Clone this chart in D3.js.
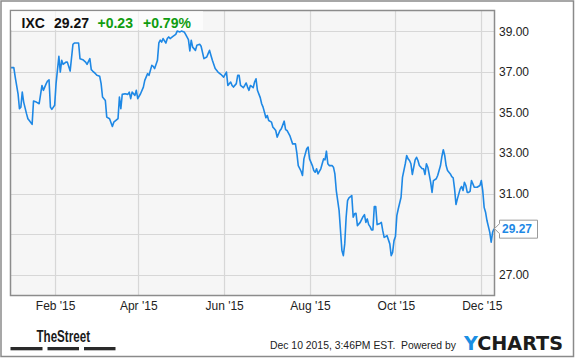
<!DOCTYPE html>
<html>
<head>
<meta charset="utf-8">
<script src="https://cdn.jsdelivr.net/npm/d3@7"></script>
<style>
  html, body { margin: 0; padding: 0; background: #fff; }
  svg { display: block; font-family: "Liberation Sans", Arial, sans-serif; }
</style>
</head>
<body>
<div id="chart"></div>
<script>
// IXC daily close, 2015
const dates = [
  "2015-01-01","2015-01-03","2015-01-04","2015-01-06","2015-01-07","2015-01-08","2015-01-09","2015-01-10","2015-01-12","2015-01-13",
  "2015-01-14","2015-01-16","2015-01-17","2015-01-19","2015-01-21","2015-01-23","2015-01-24","2015-01-26","2015-01-27","2015-01-28",
  "2015-01-29","2015-01-30","2015-02-01","2015-02-02","2015-02-04","2015-02-05","2015-02-06","2015-02-07","2015-02-09","2015-02-10",
  "2015-02-12","2015-02-14","2015-02-15","2015-02-18","2015-02-19","2015-02-21","2015-02-23","2015-02-24","2015-02-26","2015-02-27",
  "2015-02-28","2015-03-02","2015-03-03","2015-03-05","2015-03-06","2015-03-07","2015-03-09","2015-03-10","2015-03-12","2015-03-14",
  "2015-03-15","2015-03-18","2015-03-19","2015-03-20","2015-03-21","2015-03-23","2015-03-25","2015-03-26","2015-03-27","2015-03-28",
  "2015-03-30","2015-03-31","2015-04-01","2015-04-03","2015-04-05","2015-04-06","2015-04-08","2015-04-09","2015-04-11","2015-04-12",
  "2015-04-13","2015-04-15","2015-04-16","2015-04-17","2015-04-18","2015-04-19","2015-04-21","2015-04-22","2015-04-23","2015-04-24",
  "2015-04-26","2015-04-28","2015-04-29","2015-05-01","2015-05-02","2015-05-04","2015-05-05","2015-05-07","2015-05-08","2015-05-09",
  "2015-05-10","2015-05-12","2015-05-13","2015-05-15","2015-05-16","2015-05-18","2015-05-20","2015-05-21","2015-05-22","2015-05-23",
  "2015-05-24","2015-05-26","2015-05-28","2015-05-30","2015-06-01","2015-06-03","2015-06-04","2015-06-06","2015-06-07","2015-06-08",
  "2015-06-10","2015-06-11","2015-06-12","2015-06-13","2015-06-15","2015-06-16","2015-06-17","2015-06-18","2015-06-19","2015-06-20",
  "2015-06-22","2015-06-23","2015-06-24","2015-06-25","2015-06-27","2015-06-28","2015-06-29","2015-06-30","2015-07-01","2015-07-02",
  "2015-07-03","2015-07-05","2015-07-06","2015-07-07","2015-07-08","2015-07-09","2015-07-11","2015-07-12","2015-07-14","2015-07-15",
  "2015-07-16","2015-07-18","2015-07-19","2015-07-20","2015-07-22","2015-07-23","2015-07-24","2015-07-26","2015-07-27","2015-07-28",
  "2015-07-30","2015-07-31","2015-08-01","2015-08-03","2015-08-04","2015-08-05","2015-08-06","2015-08-07","2015-08-09","2015-08-10",
  "2015-08-11","2015-08-12","2015-08-13","2015-08-14","2015-08-15","2015-08-17","2015-08-18","2015-08-19","2015-08-20","2015-08-22",
  "2015-08-23","2015-08-24","2015-08-25","2015-08-26","2015-08-27","2015-08-28","2015-08-29","2015-08-31","2015-09-01","2015-09-02",
  "2015-09-03","2015-09-04","2015-09-06","2015-09-08","2015-09-09","2015-09-10","2015-09-11","2015-09-12","2015-09-13","2015-09-14",
  "2015-09-15","2015-09-16","2015-09-17","2015-09-18","2015-09-20","2015-09-21","2015-09-22","2015-09-23","2015-09-24","2015-09-25",
  "2015-09-27","2015-09-28","2015-09-29","2015-09-30","2015-10-01","2015-10-02","2015-10-03","2015-10-05","2015-10-06","2015-10-08",
  "2015-10-09","2015-10-10","2015-10-11","2015-10-12","2015-10-13","2015-10-15","2015-10-16","2015-10-17","2015-10-18","2015-10-20",
  "2015-10-21","2015-10-22","2015-10-23","2015-10-24","2015-10-25","2015-10-26","2015-10-27","2015-10-28","2015-10-30","2015-10-31",
  "2015-11-01","2015-11-02","2015-11-03","2015-11-04","2015-11-05","2015-11-06","2015-11-07","2015-11-09","2015-11-10","2015-11-11",
  "2015-11-12","2015-11-13","2015-11-14","2015-11-16","2015-11-17","2015-11-18","2015-11-19","2015-11-20","2015-11-21","2015-11-22",
  "2015-11-23","2015-11-24","2015-11-25","2015-11-26","2015-11-28","2015-11-30","2015-12-01","2015-12-02","2015-12-03","2015-12-04",
  "2015-12-05","2015-12-07","2015-12-08","2015-12-09","2015-12-10"
];
const closes = [
  37.21,37.21,36.74,35.92,35.18,35.26,36.00,35.51,34.94,34.69,
  34.60,34.41,35.56,35.51,35.43,36.33,36.09,36.42,36.55,36.61,
  35.26,35.15,35.35,36.42,37.77,36.99,37.57,37.37,37.48,37.48,
  37.04,38.36,38.42,38.42,37.65,37.60,37.48,37.37,37.65,37.11,
  37.04,36.91,36.83,36.78,36.42,35.76,35.59,34.77,34.69,34.31,
  34.52,34.69,35.76,35.18,35.89,35.92,35.89,36.00,35.68,36.00,
  35.84,36.09,35.68,35.92,36.25,36.58,36.91,36.83,37.32,37.27,
  37.16,37.57,38.43,38.56,38.47,38.64,38.42,38.64,38.72,38.64,
  38.75,38.85,39.01,38.97,39.01,38.97,38.85,38.59,38.03,38.56,
  38.22,38.06,38.31,38.36,38.26,37.65,37.73,37.90,38.06,37.81,
  37.57,37.16,36.99,36.88,36.74,36.99,36.33,36.50,36.33,36.25,
  36.42,36.83,36.83,36.33,36.22,36.33,36.45,36.25,36.09,36.33,
  36.22,36.50,36.66,36.09,35.73,35.43,35.26,35.01,34.74,34.85,
  34.60,34.52,34.27,34.20,34.11,33.78,34.11,34.20,34.57,34.15,
  34.11,33.86,33.65,33.45,33.45,32.99,32.38,32.10,31.89,32.71,
  33.21,33.29,32.71,32.38,32.14,32.05,32.22,31.97,32.22,32.47,
  32.71,32.66,33.09,32.47,32.38,32.38,32.30,31.97,31.15,30.16,
  29.17,28.19,27.94,28.52,29.83,30.65,30.79,30.90,29.83,30.00,
  30.03,29.42,29.58,29.86,29.96,29.58,29.75,29.47,29.37,29.21,
  29.21,30.36,30.36,29.47,29.53,29.58,29.17,28.84,28.88,28.93,
  28.52,27.94,28.10,28.68,28.88,29.91,30.24,30.82,31.80,32.47,
  32.88,32.71,32.63,32.47,31.94,32.66,32.79,32.63,32.38,32.22,
  32.22,31.94,32.47,32.30,31.94,31.56,31.06,31.64,31.73,31.89,
  32.14,32.38,32.83,33.16,32.88,32.38,32.14,31.97,31.84,31.78,
  31.23,30.46,30.74,31.23,31.35,31.15,31.56,31.40,31.06,31.06,
  31.11,31.64,31.48,31.31,31.31,31.40,31.64,31.15,30.32,30.08,
  29.67,29.09,28.60,29.09,29.27
];
const yTicks = [27, 29, 31, 33, 35, 37, 39];
const xTickDates = ["2015-02-01","2015-04-01","2015-06-01","2015-08-01","2015-10-01","2015-12-01"];
const ticker = "IXC";
const lastPrice = "29.27";
const change = "+0.23";
const changePct = "+0.79%";
const stamp = "Dec 10 2015, 3:46PM EST.  Powered by";

const width = 575, height = 358;
const plot = { left: 10.5, top: 10.5, right: 494.5, bottom: 295.5 };
const parse = d3.timeParse("%Y-%m-%d");
const data = dates.map((d, i) => ({ date: parse(d), value: closes[i] }));

const svg = d3.select("#chart").append("svg")
    .attr("width", width)
    .attr("height", height);

// outer frame
svg.append("rect")
    .attr("x", 1).attr("y", 1)
    .attr("width", width - 2.5).attr("height", height - 2.5)
    .attr("fill", "#fff")
    .attr("stroke", "#8a8a8a")
    .attr("stroke-width", 1.5);

const x = d3.scaleTime()
    .domain([parse("2015-01-01"), parse("2015-12-10")])
    .range([11, 494]);
const y = d3.scaleLinear()
    .domain([26, 40])
    .range([295, 11]);

svg.append("rect")
    .attr("x", plot.left).attr("y", plot.top)
    .attr("width", plot.right - plot.left).attr("height", plot.bottom - plot.top)
    .attr("fill", "#f6f6f6");

// grid
const grid = svg.append("g").attr("stroke", "#d7d7d7").attr("stroke-width", 1.2);
grid.selectAll("line.h")
    .data(yTicks)
    .enter().append("line")
    .attr("x1", plot.left).attr("x2", plot.right)
    .attr("y1", d => Math.round(y(d)) + 0.5)
    .attr("y2", d => Math.round(y(d)) + 0.5);
grid.selectAll("line.v")
    .data(xTickDates.map(parse))
    .enter().append("line")
    .attr("y1", plot.top).attr("y2", plot.bottom)
    .attr("x1", d => Math.round(x(d)) + 0.5)
    .attr("x2", d => Math.round(x(d)) + 0.5);

// price line
const line = d3.line()
    .x(d => x(d.date))
    .y(d => y(d.value));
svg.append("path")
    .datum(data)
    .attr("d", line)
    .attr("fill", "none")
    .attr("stroke", "#1e88e5")
    .attr("stroke-width", 1.6)
    .attr("stroke-linejoin", "round");

// plot border
svg.append("rect")
    .attr("x", plot.left).attr("y", plot.top)
    .attr("width", plot.right - plot.left).attr("height", plot.bottom - plot.top)
    .attr("fill", "none")
    .attr("stroke", "#8c8c8c")
    .attr("stroke-width", 1.5);

// y axis labels
svg.append("g")
    .selectAll("text")
    .data(yTicks.filter(d => d !== 29))
    .enter().append("text")
    .attr("x", 499)
    .attr("y", d => y(d))
    .attr("dy", "0.36em")
    .attr("font-size", 12)
    .attr("fill", "#222")
    .text(d => d3.format(".2f")(d));

// x axis labels
const fmtMonth = d3.timeFormat("%b '%y");
svg.append("g")
    .selectAll("text")
    .data(xTickDates.map(parse))
    .enter().append("text")
    .attr("x", d => x(d) + 1)
    .attr("y", 310)
    .attr("text-anchor", "middle")
    .attr("font-size", 12)
    .attr("fill", "#222")
    .text(d => fmtMonth(d));

// last value flag
const last = data[data.length - 1];
const ly = y(last.value);
svg.append("path")
    .attr("d", `M${plot.right},${ly} L499.5,${ly - 5} L499.5,${ly - 8.5} L537.5,${ly - 8.5} L537.5,${ly + 9.5} L499.5,${ly + 9.5} L499.5,${ly + 5} Z`)
    .attr("fill", "#fff")
    .attr("stroke", "#9a9a9a")
    .attr("stroke-width", 1);
svg.append("text")
    .attr("x", 502)
    .attr("y", ly)
    .attr("dy", "0.36em")
    .attr("font-size", 12)
    .attr("font-weight", "bold")
    .attr("fill", "#1e88e5")
    .text(lastPrice);

// header box
svg.append("rect")
    .attr("x", 11).attr("y", 11)
    .attr("width", 192).attr("height", 19)
    .attr("fill", "#fff")
    .attr("fill-opacity", 0.65);
const head = svg.append("text")
    .attr("y", 28)
    .attr("font-size", 14)
    .attr("font-weight", "bold");
head.append("tspan").attr("x", 21.5).attr("fill", "#111").text(ticker);
head.append("tspan").attr("x", 54).attr("fill", "#111").text(lastPrice);
head.append("tspan").attr("x", 97.5).attr("fill", "#109c10").text(change);
head.append("tspan").attr("x", 143).attr("fill", "#109c10").text(changePct);

// footer: TheStreet logo
svg.append("text")
    .attr("x", 36.5).attr("y", 341.5)
    .attr("font-size", 16)
    .attr("font-weight", "bold")
    .attr("fill", "#1a1a1a")
    .attr("textLength", 53.5)
    .attr("lengthAdjust", "spacingAndGlyphs")
    .text("TheStreet");
svg.append("g")
    .selectAll("rect")
    .data([[10.5, 42.5], [47.5, 79], [84, 115.5]])
    .enter().append("rect")
    .attr("x", d => d[0]).attr("width", d => d[1] - d[0])
    .attr("y", 347).attr("height", 3.3)
    .attr("fill", "#2a2a2a");

// footer: timestamp + YCharts
svg.append("text")
    .attr("x", 270).attr("y", 349)
    .attr("font-size", 10.4)
    .attr("fill", "#222")
    .style("white-space", "pre")
    .text(stamp);
const yc = svg.append("text")
    .attr("x", 464).attr("y", 349.5)
    .attr("font-family", "DejaVu Sans, sans-serif")
    .attr("font-size", 19)
    .attr("font-weight", "bold")
    .attr("textLength", 99)
    .attr("lengthAdjust", "spacingAndGlyphs");
yc.append("tspan").attr("fill", "#1a8fe3").text("Y");
yc.append("tspan").attr("fill", "#1c1c1c").text("CHARTS");
</script>
</body>
</html>
